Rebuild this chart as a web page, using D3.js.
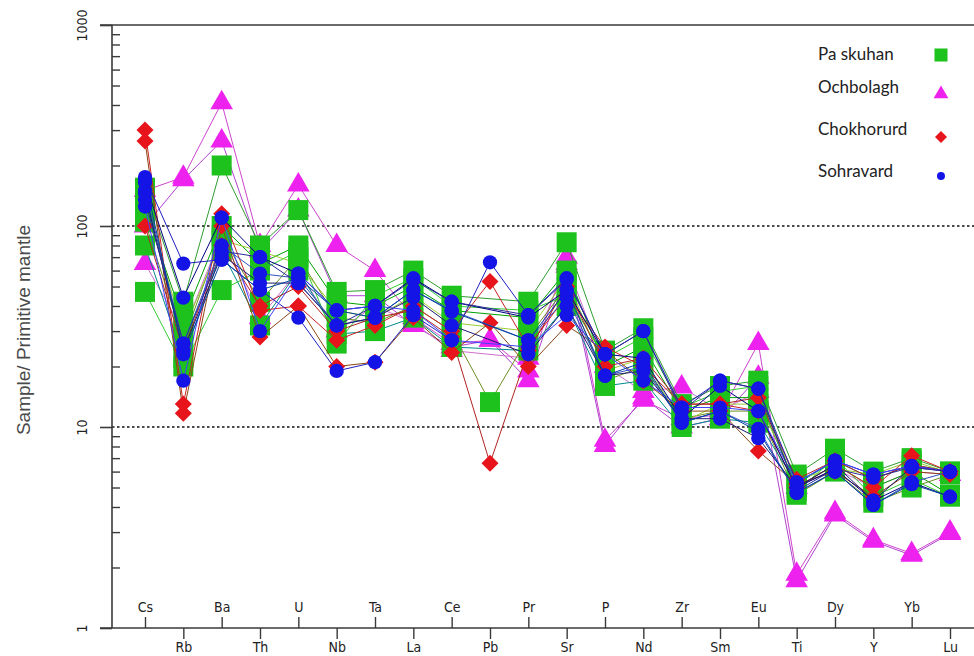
<!DOCTYPE html>
<html>
<head>
<meta charset="utf-8">
<script src="https://cdn.jsdelivr.net/npm/d3@7/dist/d3.min.js"></script>
<style>
  html, body { margin: 0; padding: 0; background: #fff; }
  svg { display: block; }
  .tick-label { font-family: "Liberation Sans Narrow", "DejaVu Sans Condensed", "DejaVu Sans", sans-serif; font-stretch: condensed; font-size: 14px; fill: #222; }
  .legend-text { font-family: Lato, "Open Sans", sans-serif; font-size: 17px; fill: #222; }
</style>
</head>
<body>
<svg id="chart" width="974" height="656"></svg>
<script>
// Elements in spider-diagram order (primitive-mantle normalised)
const elements = ["Cs","Rb","Ba","Th","U","Nb","Ta","La","Ce","Pb","Pr","Sr","P","Nd","Zr","Sm","Eu","Ti","Dy","Y","Yb","Lu"];
const yTickValues = [1, 10, 100, 1000];
const gridValues = [10, 100];
const groupNames = ["Pa skuhan", "Ochbolagh", "Chokhorurd", "Sohravard"];
const yTitle = "Sample/ Primitive mantle";

// Paskuhan samples (null = not analysed)
const paskuhan = [
  [155, 42, 200, 80, 120, 47, 48, 60, 45, null, 42, 83, 24, 31, 13, 16, 17, 5.8, 7.8, 6.0, 7.0, 6.0],
  [120, 34, 100, 65, 80, 42, 40, 50, 38, null, 35, 60, 20, 25, 12, 14, 14, 5.0, 6.5, 5.0, 6.0, 4.6],
  [105, 27, 90, 42, 70, 35, 33, 40, 30, 13.3, 28, 50, 17, 20, 11, 12, 12, 4.6, 6.0, 4.2, 5.0, 5.8],
  [80, 22, 75, 32, 60, 29, 30, 35, 25, null, 24, 40, 16, 17, 10, 11, 10.5, 5.2, 6.8, 5.5, 6.5, 6.0],
  [47, 20, 48, 60, 75, 26, 45, 55, 40, null, 38, 45, 22, 28, 12.5, 15, 16, 4.8, 7.0, 4.5, 5.5, 4.5],
  [130, 30, 85, 75, 65, 38, 35, 45, 33, null, 30, 55, 19, 22, 10.5, 13, 13, 5.5, 6.2, 5.8, 6.8, 5.9]
];

// Ochbolagh samples
const ochbolagh = [
  [150, 175, 410, 80, 160, 80, 60, 35, 26, 27, 19, 70, 8.6, 13.6, 11, 11.5, 26, 1.85, 3.75, 2.75, 2.35, 3.0],
  [100, 170, 265, 75, 120, 45, 45, 32, 25, 27, 17, 63, 8.1, 14, 10, 11, 17.7, 1.72, 3.65, 2.7, 2.3, 2.95],
  [65, 30, 90, 35, 60, 30, 40, 33, 24, null, 22, 65, 20, 15, 15.8, 12, 15, 5.0, 6.2, 5.0, 6.0, 5.8]
];

// Chokhorurd samples
const chokhorurd = [
  [300, 13, 115, 38, 40, 27, 32, 40, 30, 53, 25, 45, 25, 20, 13, 13, 12, 5.0, 6.5, 5.0, 7.2, 6.0],
  [265, 11.7, 100, 28, 40, 20, 21, 35, 23.5, 33, 20, 32, 24, 17, 12, 12, 7.6, 5.2, 6.0, 4.5, 6.0, 5.8],
  [100, 24, 80, 40, 50, 30, 35, 38, 28, 6.6, 24, 50, 20, 22, 13, 13, 14, 5.5, 6.8, 5.5, 6.5, 6.0]
];

// Sohravard samples
const sohravard = [
  [175, 65, 68, 48, 35, 19, 21, 36, 27, 66, 36, 55, 23, 30, 12.5, 17, 15.5, 5.3, 6.8, 5.8, 6.4, 6.0],
  [165, 44, 110, 70, 58, 38, 40, 55, 42, null, 35, 48, 23, 22, 11, 16, 12, 5.0, 6.2, 4.3, 5.3, 4.5],
  [150, 26, 80, 58, 55, 32, 35, 48, 38, null, 27, 44, 18, 20, 10.5, 12, 9.8, 4.7, 6.0, 4.1, 5.3, 6.0],
  [145, 24, 72, 52, 52, 32, 35, 44, 32, null, 23, 40, 18, 19, 11, 11, 8.8, 5.0, 6.5, 4.3, 6.3, 6.0],
  [125, 17, 110, 30, 58, 38, 40, 38, 27, null, 25, 36, 23, 17, 12.5, 12.5, 12, 5.3, 6.8, 5.8, 6.4, 6.0],
  [135, 26, 75, 70, 52, 32, 40, 54, 42, null, 36, 54, 23, 30, 12, 17, 15.5, 4.8, 6.2, 5.6, 6.3, 6.0],
  [170, 23, 68, 48, 55, 38, 35, 48, 37.5, null, 27, 48, 18, 21, 10.5, 12, 9.5, 4.7, 6.0, 4.1, 5.2, 4.5]
];

const groupData = [paskuhan, ochbolagh, chokhorurd, sohravard];
const markerColors = ["#1dc21d", "#ee22ee", "#e8141c", "#1414e6"];
const lineColors = [
  ["#2e9e2e", "#00a000", "#6b8e23", "#008b8b", "#33cc33", "#9acd32"],
  ["#cc44cc", "#b040d0", "#d070d0"],
  ["#cc2222", "#8b4513", "#b22222"],
  ["#1f1fbf", "#000080", "#3050c0", "#191970", "#4040ff", "#2a2a9a", "#0040a0"]
];
// Plotting order: Ochbolagh underneath, then Paskuhan, Chokhorurd, Sohravard on top
const drawOrder = [1, 0, 2, 3];

const svg = d3.select("#chart");
const plotLeft = 112, plotRight = 974, plotTop = 25, plotBottom = 628;

const x = d3.scalePoint().domain(elements).range([145, 950]);
const y = d3.scaleLog().domain([1, 1000]).range([plotBottom, plotTop]);

// Dotted reference lines
svg.append("g").selectAll("line").data(gridValues).join("line")
  .attr("x1", plotLeft).attr("x2", plotRight)
  .attr("y1", d => y(d)).attr("y2", d => y(d))
  .attr("stroke", "#111").attr("stroke-width", 1.5)
  .attr("stroke-dasharray", "2.5,2.5");

// Sample lines and symbols, group by group
const shapes = [
  () => d3.symbol(d3.symbolSquare, 400)(),
  () => d3.symbol(d3.symbolTriangle, 220)(),
  () => "M0,-8.5L8.5,0L0,8.5L-8.5,0Z",
  () => d3.symbol(d3.symbolCircle, 160)()
];

const line = d3.line()
  .x(d => x(d.el))
  .y(d => y(d.v));

drawOrder.forEach(gi => {
  const samples = groupData[gi];
  const g = svg.append("g");
  samples.forEach((vals, si) => {
    const pts = elements.map((el, i) => ({ el, v: vals[i] })).filter(d => d.v != null);
    g.append("path")
      .attr("d", line(pts))
      .attr("fill", "none")
      .attr("stroke", lineColors[gi][si % lineColors[gi].length])
      .attr("stroke-width", 1);
  });
  samples.forEach(vals => {
    const pts = elements.map((el, i) => ({ el, v: vals[i] })).filter(d => d.v != null);
    g.append("g").selectAll("path").data(pts).join("path")
      .attr("d", shapes[gi])
      .attr("transform", d => `translate(${x(d.el)},${y(d.v)})`)
      .attr("fill", markerColors[gi]);
  });
});

// Frame lines
const frame = svg.append("g").attr("stroke", "#3a3a3a").attr("stroke-width", 1.6);
frame.append("line").attr("x1", 100).attr("x2", plotRight).attr("y1", plotTop).attr("y2", plotTop);
frame.append("line").attr("x1", 100).attr("x2", plotRight).attr("y1", plotBottom).attr("y2", plotBottom);
frame.append("line").attr("x1", plotLeft).attr("x2", plotLeft).attr("y1", plotTop).attr("y2", plotBottom);

// Y axis: major ticks outward with rotated labels, minor ticks inward
const yMajor = svg.append("g").attr("transform", `translate(${plotLeft},0)`)
  .call(d3.axisLeft(y).tickValues(yTickValues).tickSize(12).tickFormat(d3.format("d")));
yMajor.select(".domain").remove();
yMajor.selectAll(".tick line").attr("stroke", "#3a3a3a").attr("stroke-width", 1.6);
yMajor.selectAll(".tick text")
  .attr("class", "tick-label")
  .attr("x", null).attr("dy", null)
  .attr("text-anchor", "middle")
  .attr("transform", "translate(-25,0) rotate(-90)");

const minorValues = [];
[1, 10, 100].forEach(b => { for (let k = 2; k <= 9; k++) minorValues.push(b * k); });
const yMinor = svg.append("g").attr("transform", `translate(${plotLeft},0)`)
  .call(d3.axisRight(y).tickValues(minorValues).tickSize(8).tickFormat(""));
yMinor.select(".domain").remove();
yMinor.selectAll(".tick line").attr("stroke", "#3a3a3a").attr("stroke-width", 1.4);

// X axis: alternating labels above (inside) and below the axis
const upper = elements.filter((d, i) => i % 2 === 0);
const lower = elements.filter((d, i) => i % 2 === 1);

const xTop = svg.append("g").attr("transform", `translate(0,${plotBottom})`)
  .call(d3.axisTop(x).tickValues(upper).tickSize(11).tickPadding(5));
xTop.select(".domain").remove();
xTop.selectAll(".tick line").attr("stroke", "#3a3a3a").attr("stroke-width", 1.4);
xTop.selectAll(".tick text").attr("class", "tick-label");

const xBottom = svg.append("g").attr("transform", `translate(0,${plotBottom})`)
  .call(d3.axisBottom(x).tickValues(lower).tickSize(11).tickPadding(3));
xBottom.select(".domain").remove();
xBottom.selectAll(".tick line").attr("stroke", "#3a3a3a").attr("stroke-width", 1.4);
xBottom.selectAll(".tick text").attr("class", "tick-label");

// Y axis title
svg.append("text")
  .attr("transform", "translate(30,330) rotate(-90)")
  .attr("text-anchor", "middle")
  .attr("font-family", "Liberation Sans, Arial, sans-serif")
  .attr("font-size", 19)
  .attr("fill", "#4a4a4a")
  .text(yTitle);

// Legend
const legendRows = [60, 93, 135, 177];
const legendMarkY = [55, 94, 137, 176];
const legendShapes = [
  d3.symbol(d3.symbolSquare, 170)(),
  d3.symbol(d3.symbolTriangle, 95)(),
  "M0,-6L6,0L0,6L-6,0Z",
  d3.symbol(d3.symbolCircle, 50)()
];
const legend = svg.append("g");
groupNames.forEach((name, i) => {
  legend.append("text")
    .attr("class", "legend-text")
    .attr("x", 818).attr("y", legendRows[i])
    .text(name);
  legend.append("path")
    .attr("d", legendShapes[i])
    .attr("transform", `translate(941,${legendMarkY[i]})`)
    .attr("fill", markerColors[i]);
});
</script>
</body>
</html>
